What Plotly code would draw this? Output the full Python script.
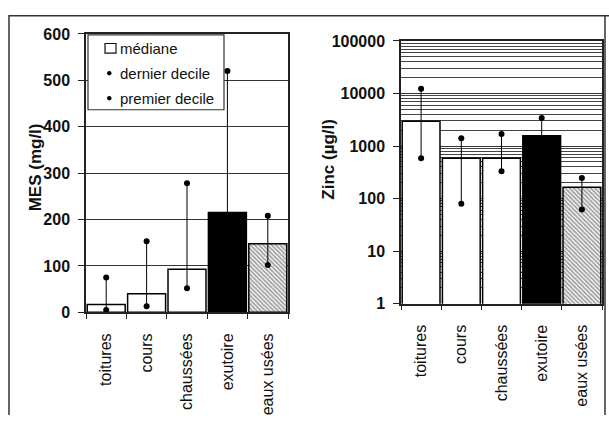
import plotly.graph_objects as go

categories = ["toitures", "cours", "chaussées", "exutoire", "eaux usées"]

mes_median = [17, 40, 93, 215, 148]
mes_d9 = [75, 153, 278, 520, 208]
mes_d1 = [5, 13, 52, 110, 102]

zinc_median = [2950, 585, 585, 1560, 165]
zinc_d9 = [12300, 1400, 1700, 3400, 245]
zinc_d1 = [585, 80, 330, 700, 62]

mes_ticks = [0, 100, 200, 300, 400, 500, 600]
zinc_tickvals = [1, 10, 100, 1000, 10000, 100000]
zinc_ticktext = ["1", "10", "100", "1000", "10000", "100000"]

bar_colors = ["white", "white", "white", "black", "white"]
bar_patterns = ["", "", "", "", "\\"]

W, H = 609, 424
FONT = "Arial, Liberation Sans, sans-serif"


def px(x):
    return x / W


def py(y):
    return 1 - y / H


def whisker(cats, lo, hi):
    xs, ys = [], []
    for c, a, b in zip(cats, lo, hi):
        xs += [c, c, None]
        ys += [a, b, None]
    return xs, ys


bar_marker = dict(color=bar_colors, line=dict(color="black", width=1.5),
                  pattern=dict(shape=bar_patterns, fgcolor="black", bgcolor="white",
                               size=3, solidity=0.6))

fig = go.Figure()

# MES chart
fig.add_trace(go.Bar(x=categories, y=mes_median, xaxis="x", yaxis="y",
                     marker=bar_marker, showlegend=False, hoverinfo="skip"))
wx, wy = whisker(categories, mes_d1, mes_d9)
fig.add_trace(go.Scatter(
    x=wx, y=wy, xaxis="x", yaxis="y", mode="lines+markers",
    line=dict(color="black", width=1), marker=dict(color="black", size=6),
    showlegend=False, hoverinfo="skip"))

# Zinc chart
fig.add_trace(go.Bar(x=categories, y=zinc_median, xaxis="x2", yaxis="y2",
                     marker=bar_marker, showlegend=False, hoverinfo="skip"))
wx2, wy2 = whisker(categories, zinc_d1, zinc_d9)
fig.add_trace(go.Scatter(
    x=wx2, y=wy2, xaxis="x2", yaxis="y2", mode="lines+markers",
    line=dict(color="black", width=1), marker=dict(color="black", size=6),
    showlegend=False, hoverinfo="skip"))

tickfont_y = dict(family=FONT, size=16, color="#111", weight="bold")
tickfont_x = dict(family=FONT, size=16, color="#111")

fig.update_layout(
    width=W, height=H,
    margin=dict(l=0, r=0, t=0, b=0),
    paper_bgcolor="white", plot_bgcolor="white",
    bargap=0.06,
    font=dict(family=FONT, color="#111"),
    xaxis=dict(domain=[px(86), px(288)], anchor="y", type="category",
               tickangle=-90, tickfont=tickfont_x, ticks="outside", ticklen=5,
               tickson="boundaries", tickcolor="#222", showline=True, linecolor="#222",
               linewidth=1.5, mirror=True, showgrid=False, ticklabelstandoff=13),
    yaxis=dict(domain=[py(317), py(27)], anchor="x", range=[0, 600],
               tickvals=mes_ticks, tickfont=tickfont_y, ticks="outside", ticklen=6,
               tickcolor="#222", showline=True, linecolor="#222", linewidth=1.5,
               mirror=True, showgrid=True, gridcolor="#333", gridwidth=1,
               zeroline=False, ticklabelstandoff=5),
    xaxis2=dict(domain=[px(401), px(602)], anchor="y2", type="category",
                tickangle=-90, tickfont=tickfont_x, ticks="outside", ticklen=5,
                tickson="boundaries", tickcolor="#222", showline=True, linecolor="#222",
                linewidth=1.5, mirror=True, showgrid=False, ticklabelstandoff=13),
    yaxis2=dict(domain=[py(308), py(34.3)], anchor="x2", type="log", range=[0, 5],
                tickvals=zinc_tickvals, ticktext=zinc_ticktext, tickfont=tickfont_y,
                ticks="outside", ticklen=6, tickcolor="#222", showline=True,
                linecolor="#222", linewidth=1.5, mirror=True,
                showgrid=True, gridcolor="#333", gridwidth=1,
                minor=dict(dtick="D1", showgrid=True, gridcolor="#444", gridwidth=1, ticks=""),
                ticklabelstandoff=5),
)

shapes = []
# outer frame (left, top, right)
shapes.append(dict(type="path", xref="paper", yref="paper",
                   path=f"M {px(9)} {py(424)} L {px(9)} {py(8)} L {px(609)} {py(8)} M {px(605)} {py(8)} L {px(605)} {py(424)}",
                   line=dict(color="#333", width=1.5)))
# legend box
shapes.append(dict(type="rect", xref="paper", yref="paper",
                   x0=px(88), x1=px(224), y0=py(106), y1=py(28),
                   fillcolor="white", line=dict(color="#333", width=1.2), layer="above"))
shapes.append(dict(type="rect", xref="paper", yref="paper",
                   x0=px(105), x1=px(116), y0=py(47), y1=py(37),
                   fillcolor="white", line=dict(color="#111", width=1.2), layer="above"))
for yy in (68, 94):
    shapes.append(dict(type="circle", xref="paper", yref="paper",
                       x0=px(107), x1=px(111.5), y0=py(yy + 2.25), y1=py(yy - 2.25),
                       fillcolor="black", line=dict(color="black", width=0), layer="above"))
fig.update_layout(shapes=shapes)

annotations = []
for txt, yy in (("médiane", 42), ("dernier decile", 68), ("premier decile", 94)):
    annotations.append(dict(text=txt, xref="paper", yref="paper", x=px(118), y=py(yy),
                            xanchor="left", yanchor="middle", showarrow=False,
                            font=dict(family=FONT, size=15, color="#111")))
annotations.append(dict(text="<b>MES (mg/l)</b>", xref="paper", yref="paper",
                        x=px(35), y=py(166), textangle=-90, showarrow=False,
                        xanchor="center", yanchor="middle",
                        font=dict(family=FONT, size=17, color="#111")))
annotations.append(dict(text="<b>Zinc (µg/l)</b>", xref="paper", yref="paper",
                        x=px(329), y=py(158), textangle=-90, showarrow=False,
                        xanchor="center", yanchor="middle",
                        font=dict(family=FONT, size=17, color="#111")))
fig.update_layout(annotations=annotations)

fig.write_html("out.html", config={"displayModeBar": False},
               post_script="document.body.style.margin='0';document.body.style.overflow='hidden';")
